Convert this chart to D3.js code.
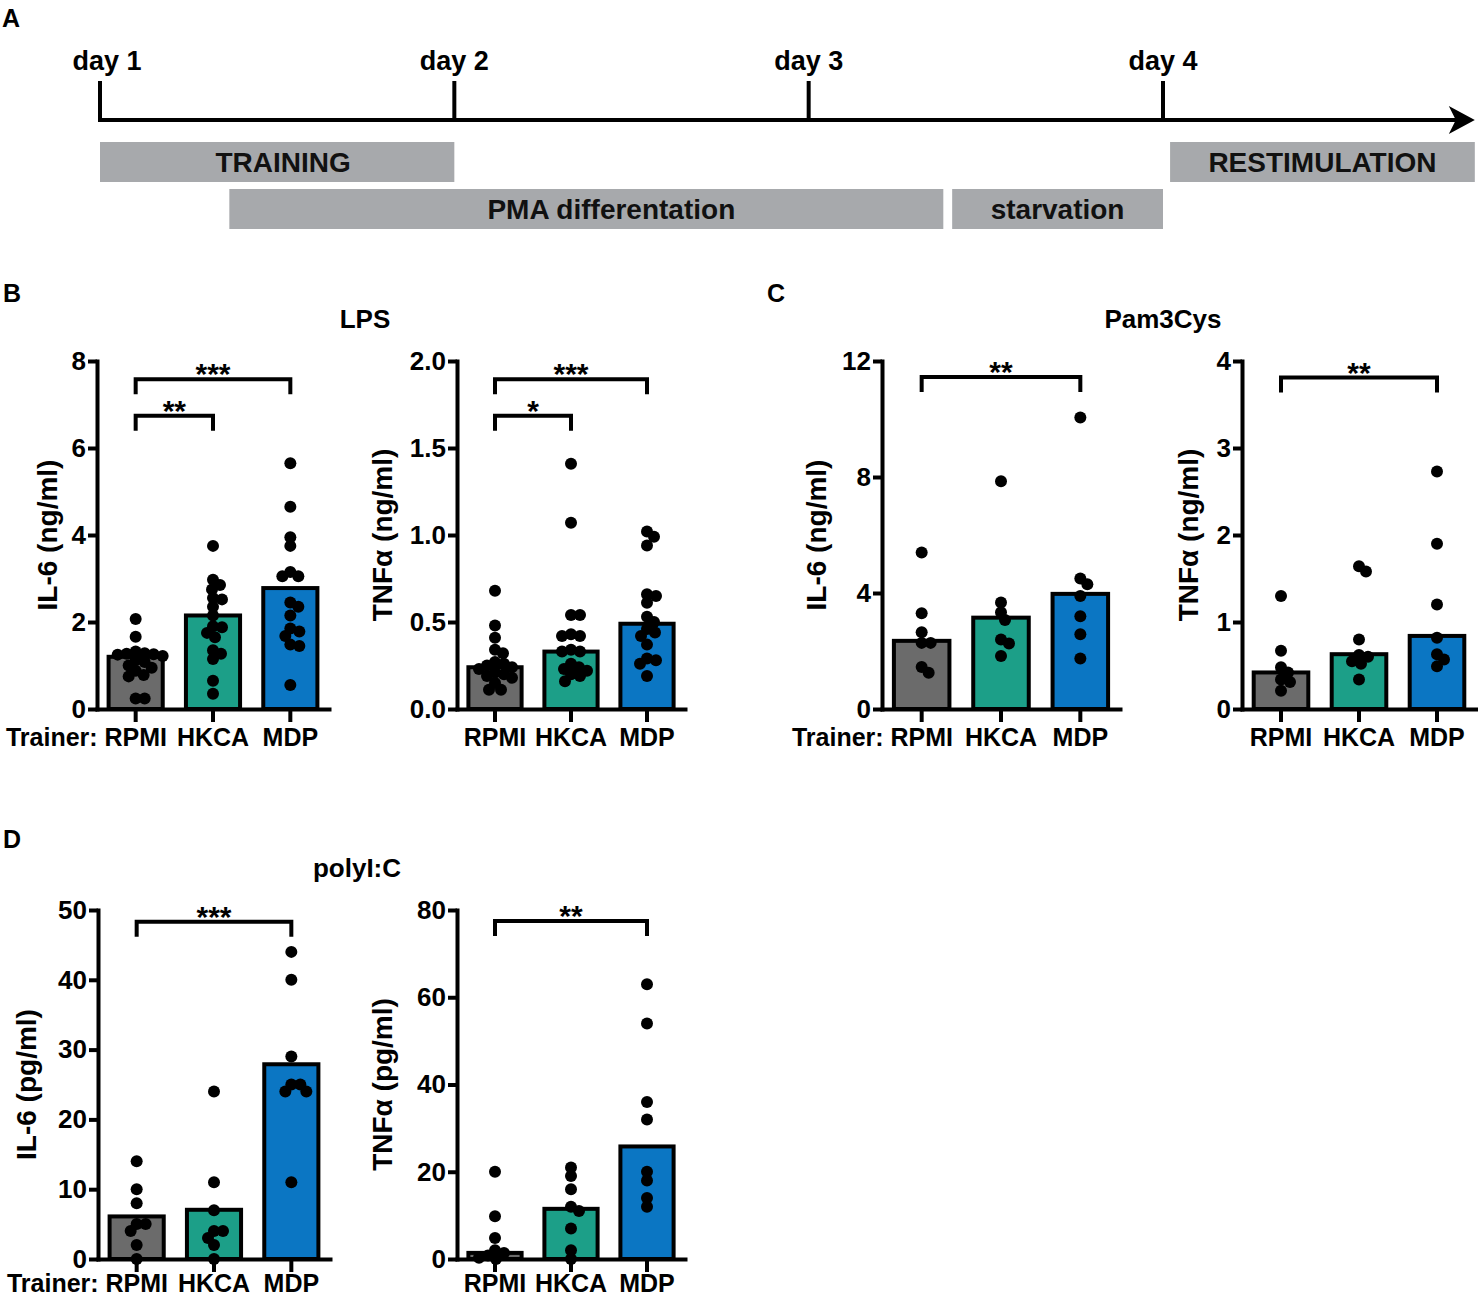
<!DOCTYPE html>
<html>
<head>
<meta charset="utf-8">
<script src="https://cdn.jsdelivr.net/npm/d3@7"></script>
<style>
  html, body { margin: 0; padding: 0; background: #fff; }
  svg { display: block; }
</style>
</head>
<body>
<svg id="fig" width="1478" height="1296"></svg>
<script>
const FONT = '"Liberation Sans", Arial, Helvetica, sans-serif';

const categories = ["RPMI", "HKCA", "MDP"];
const barColors = ["#6b6b6b", "#1c9f88", "#0b76c3"];

// A: timeline (positions in days)
const days = [1, 2, 3, 4];
const dayLabels = ["day 1", "day 2", "day 3", "day 4"];
const phaseNames = ["TRAINING", "PMA differentation", "starvation", "RESTIMULATION"];
const phaseStart = [1, 1.365, 3.405, 4.02];
const phaseEnd = [2, 3.38, 4, 4.88];
const phaseRow = [0, 1, 1, 0];
const timelineEnd = 4.88;

// B: LPS
const lpsIl6Ticks = [0, 2, 4, 6, 8];
const lpsIl6Bars = [1.2, 2.15, 2.78];
const lpsIl6Points = [
  [2.07, 1.66, 1.32, 1.28, 1.27, 1.26, 1.25, 1.22, 1.12, 1.08, 1.0, 0.95, 0.88, 0.78, 0.75, 0.24, 0.24],
  [3.75, 2.97, 2.85, 2.75, 2.55, 2.52, 2.35, 2.15, 1.9, 1.88, 1.75, 1.65, 1.35, 1.27, 1.15, 0.65, 0.35],
  [5.65, 4.65, 3.95, 3.75, 3.15, 3.05, 3.05, 2.45, 2.35, 2.15, 1.85, 1.78, 1.68, 1.48, 1.45, 0.55]
];
const lpsIl6Sig = [[0, 2, 7.58, "***"], [0, 1, 6.74, "**"]];

const lpsTnfTicks = [0, 0.5, 1.0, 1.5, 2.0];
const lpsTnfBars = [0.24, 0.33, 0.49];
const lpsTnfPoints = [
  [0.68, 0.48, 0.41, 0.34, 0.32, 0.27, 0.26, 0.25, 0.24, 0.23, 0.21, 0.2, 0.19, 0.18, 0.15, 0.11, 0.11],
  [1.41, 1.07, 0.54, 0.54, 0.43, 0.42, 0.42, 0.34, 0.33, 0.33, 0.26, 0.24, 0.23, 0.22, 0.2, 0.19, 0.16],
  [1.02, 0.99, 0.94, 0.66, 0.65, 0.61, 0.53, 0.5, 0.46, 0.44, 0.42, 0.37, 0.29, 0.28, 0.26, 0.19]
];
const lpsTnfSig = [[0, 2, 1.895, "***"], [0, 1, 1.686, "*"]];

// C: Pam3Cys
const pamIl6Ticks = [0, 4, 8, 12];
const pamIl6Bars = [2.35, 3.15, 3.97];
const pamIl6Points = [
  [5.4, 3.3, 2.65, 2.28, 2.28, 1.45, 1.25],
  [7.85, 3.67, 3.34, 3.07, 2.4, 2.26, 1.83],
  [10.05, 4.5, 4.3, 3.9, 3.2, 2.58, 1.74]
];
const pamIl6Sig = [[0, 2, 11.45, "**"]];

const pamTnfTicks = [0, 1, 2, 3, 4];
const pamTnfBars = [0.42, 0.63, 0.84];
const pamTnfPoints = [
  [1.3, 0.67, 0.48, 0.42, 0.34, 0.31, 0.21],
  [1.64, 1.58, 0.8, 0.62, 0.6, 0.55, 0.52, 0.34],
  [2.73, 1.9, 1.2, 0.82, 0.63, 0.57, 0.49]
];
const pamTnfSig = [[0, 2, 3.81, "**"]];

// D: polyI:C
const polyIl6Ticks = [0, 10, 20, 30, 40, 50];
const polyIl6Bars = [6.1, 7.05, 27.9];
const polyIl6Points = [
  [14, 10, 8, 5, 5, 4, 2, 0],
  [24, 11, 7, 4, 4, 3, 2, 0],
  [44, 40, 29, 25, 25, 24, 24, 11]
];
const polyIl6Sig = [[0, 2, 48.3, "***"]];

const polyTnfTicks = [0, 20, 40, 60, 80];
const polyTnfBars = [1.4, 11.5, 25.8];
const polyTnfPoints = [
  [20, 9.8, 4.8, 2, 1.4, 0.8, 0.3, 0],
  [21, 19, 16, 12, 11, 7, 2, 0],
  [63, 54, 36, 32, 20, 18, 14, 12]
];
const polyTnfSig = [[0, 2, 77.5, "**"]];

const svg = d3.select("#fig")
  .attr("font-family", FONT)
  .attr("font-weight", "bold");

// ---------- panel A ----------
function drawTimeline() {
  const t = d3.scaleLinear().domain([1, 4]).range([100, 1163]);
  const lineY = 120;
  const g = svg.append("g");

  g.append("line")
    .attr("x1", t(1) - 2).attr("x2", t(timelineEnd) - 14)
    .attr("y1", lineY).attr("y2", lineY)
    .attr("stroke", "#000").attr("stroke-width", 4);

  const xe = t(timelineEnd);
  g.append("path")
    .attr("d", `M${xe},${lineY} L${xe - 26},${lineY - 14} L${xe - 19},${lineY} L${xe - 26},${lineY + 14} Z`)
    .attr("fill", "#000");

  g.selectAll("line.day").data(days).join("line")
    .attr("class", "day")
    .attr("x1", d => t(d)).attr("x2", d => t(d))
    .attr("y1", 81).attr("y2", lineY + 2)
    .attr("stroke", "#000").attr("stroke-width", 4);

  g.selectAll("text.day").data(days).join("text")
    .attr("class", "day")
    .attr("x", d => t(d) + (d === 1 ? 7 : 0))
    .attr("y", 70)
    .attr("text-anchor", "middle")
    .attr("font-size", 27)
    .text((d, i) => dayLabels[i]);

  const rowY = [142, 189];
  g.selectAll("rect.phase").data(phaseNames).join("rect")
    .attr("class", "phase")
    .attr("x", (d, i) => t(phaseStart[i]))
    .attr("y", (d, i) => rowY[phaseRow[i]])
    .attr("width", (d, i) => t(phaseEnd[i]) - t(phaseStart[i]))
    .attr("height", 40)
    .attr("fill", "#a7a9ac");

  g.selectAll("text.phase").data(phaseNames).join("text")
    .attr("class", "phase")
    .attr("x", (d, i) => (t(phaseStart[i]) + t(phaseEnd[i])) / 2 + (i === 1 ? 25 : i === 0 ? 6 : 0))
    .attr("y", (d, i) => rowY[phaseRow[i]] + 30)
    .attr("text-anchor", "middle")
    .attr("font-size", 28)
    .attr("fill", "#111")
    .text(d => d);
}

// simple beeswarm so the dots spread sideways like a GraphPad scatter
function swarm(values, cx, y, r) {
  const placed = [];
  const minD = 2 * r * 0.72;
  values.slice().sort((a, b) => b - a).forEach(v => {
    const py = y(v);
    let off = 0;
    for (let k = 0; k < 400; k++) {
      const cand = k === 0 ? 0 : (k % 2 ? 1 : -1) * Math.ceil(k / 2);
      const px = cx + cand;
      if (placed.every(q => (q.x - px) ** 2 + (q.y - py) ** 2 >= minD * minD)) { off = cand; break; }
    }
    placed.push({ x: cx + off, y: py });
  });
  return placed;
}

function drawPanel(p) {
  const g = svg.append("g");
  const x = d3.scaleBand().domain(categories).range([p.left, p.left + p.width]);
  const y = d3.scaleLinear().domain([0, p.ticks[p.ticks.length - 1]]).range([p.bottom, p.top]);
  const bw = x.bandwidth() * 0.7;
  const cx = c => x(c) + x.bandwidth() / 2;

  g.selectAll("rect").data(p.bars).join("rect")
    .attr("x", (d, i) => cx(categories[i]) - bw / 2)
    .attr("y", d => y(d))
    .attr("width", bw)
    .attr("height", d => y(0) - y(d))
    .attr("fill", (d, i) => barColors[i])
    .attr("stroke", "#000")
    .attr("stroke-width", 4);

  p.points.forEach((vals, i) => {
    g.append("g").selectAll("circle")
      .data(swarm(vals, cx(categories[i]), y, 6))
      .join("circle")
      .attr("cx", d => d.x).attr("cy", d => d.y)
      .attr("r", 6)
      .attr("fill", "#000");
  });

  const yAxis = g.append("g")
    .attr("transform", `translate(${p.left},0)`)
    .call(d3.axisLeft(y).tickValues(p.ticks).tickFormat(d3.format(p.fmt))
      .tickSize(9).tickPadding(2).tickSizeOuter(0));
  const xAxis = g.append("g")
    .attr("transform", `translate(0,${p.bottom})`)
    .call(d3.axisBottom(x).tickSize(13).tickPadding(p.xPad).tickSizeOuter(0));

  [yAxis, xAxis].forEach(a => {
    a.attr("font-family", FONT).attr("font-weight", "bold").attr("color", "#000");
    a.select(".domain").attr("stroke-width", 4).attr("stroke-linecap", "square");
    a.selectAll(".tick line").attr("stroke-width", 4);
  });
  yAxis.attr("font-size", 26);
  xAxis.attr("font-size", 25);

  if (p.trainer) {
    g.append("text")
      .attr("x", cx(categories[0]) - 38)
      .attr("y", p.bottom + 13 + p.xPad)
      .attr("dy", "0.71em")
      .attr("text-anchor", "end")
      .attr("font-size", 25)
      .text("Trainer:");
  }

  g.append("text")
    .attr("transform", `translate(${p.left - p.labelOff},${(p.top + p.bottom) / 2}) rotate(-90)`)
    .attr("text-anchor", "middle")
    .attr("font-size", 28)
    .text(p.label);

  p.sig.forEach(([a, b, v, s]) => {
    const yy = y(v);
    g.append("path")
      .attr("d", `M${cx(categories[a])},${yy + 15} V${yy} H${cx(categories[b])} V${yy + 15}`)
      .attr("fill", "none")
      .attr("stroke", "#000")
      .attr("stroke-width", 4);
    g.append("text")
      .attr("x", (cx(categories[a]) + cx(categories[b])) / 2)
      .attr("y", yy + 5)
      .attr("text-anchor", "middle")
      .attr("font-size", 30)
      .text(s);
  });
}

drawTimeline();

const panels = [
  { left: 97, width: 232, top: 361, bottom: 709, ticks: lpsIl6Ticks, fmt: "d", bars: lpsIl6Bars,
    points: lpsIl6Points, sig: lpsIl6Sig, label: "IL-6 (ng/ml)", labelOff: 40, trainer: true, xPad: 6 },
  { left: 457, width: 228, top: 361, bottom: 709, ticks: lpsTnfTicks, fmt: ".1f", bars: lpsTnfBars,
    points: lpsTnfPoints, sig: lpsTnfSig, label: "TNFα  (ng/ml)", labelOff: 65, trainer: false, xPad: 6 },
  { left: 882, width: 238, top: 361, bottom: 709, ticks: pamIl6Ticks, fmt: "d", bars: pamIl6Bars,
    points: pamIl6Points, sig: pamIl6Sig, label: "IL-6 (ng/ml)", labelOff: 56, trainer: true, xPad: 6 },
  { left: 1242, width: 234, top: 361, bottom: 709, ticks: pamTnfTicks, fmt: "d", bars: pamTnfBars,
    points: pamTnfPoints, sig: pamTnfSig, label: "TNFα  (ng/ml)", labelOff: 44, trainer: false, xPad: 6 },
  { left: 98, width: 232, top: 910, bottom: 1259, ticks: polyIl6Ticks, fmt: "d", bars: polyIl6Bars,
    points: polyIl6Points, sig: polyIl6Sig, label: "IL-6 (pg/ml)", labelOff: 62, trainer: true, xPad: 2 },
  { left: 457, width: 228, top: 910, bottom: 1259, ticks: polyTnfTicks, fmt: "d", bars: polyTnfBars,
    points: polyTnfPoints, sig: polyTnfSig, label: "TNFα  (pg/ml)", labelOff: 65, trainer: false, xPad: 2 }
];
panels.forEach(drawPanel);

// panel letters and stimulus titles
const letters = [["A", 2, 27], ["B", 3, 302], ["C", 767, 302], ["D", 3, 848]];
svg.selectAll("text.letter").data(letters).join("text")
  .attr("class", "letter")
  .attr("x", d => d[1]).attr("y", d => d[2])
  .attr("font-size", 25)
  .text(d => d[0]);

const titles = [["LPS", 365, 328], ["Pam3Cys", 1163, 328], ["polyI:C", 357, 877]];
svg.selectAll("text.title").data(titles).join("text")
  .attr("class", "title")
  .attr("x", d => d[1]).attr("y", d => d[2])
  .attr("text-anchor", "middle")
  .attr("font-size", 26)
  .text(d => d[0]);
</script>
</body>
</html>
